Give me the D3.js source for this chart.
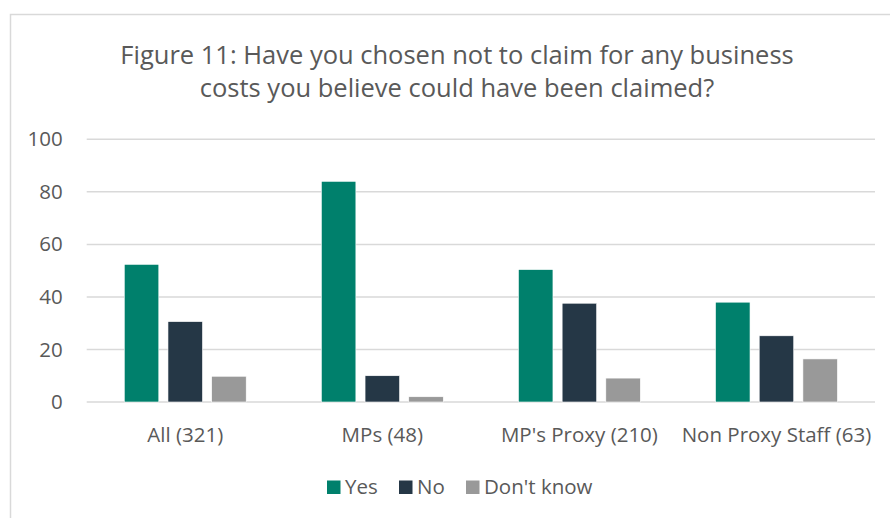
<!DOCTYPE html>
<html>
<head>
<meta charset="utf-8">
<script src="https://cdn.jsdelivr.net/npm/d3@7"></script>
<style>
  html, body { margin: 0; padding: 0; background: #fff; }
  svg { display: block; }
  text { font-family: "Open Sans", "Noto Sans", sans-serif; fill: #595959; }
</style>
</head>
<body>
<svg id="chart" width="890" height="518"></svg>
<script>
// Survey responses, percent of each group
const categories = ["All (321)", "MPs (48)", "MP's Proxy (210)", "Non Proxy Staff (63)"];
const seriesNames = ["Yes", "No", "Don't know"];
const yesValues = [52.4, 84.0, 50.4, 38.0];
const noValues = [30.6, 10.0, 37.6, 25.2];
const dontKnowValues = [9.8, 2.0, 9.1, 16.4];
const seriesColors = ["#00806C", "#253746", "#999999"];
const yTicks = [0, 20, 40, 60, 80, 100];
const titleLines = [
  "Figure 11: Have you chosen not to claim for any business",
  "costs you believe could have been claimed?"
];

const seriesValues = [yesValues, noValues, dontKnowValues];
const rows = categories.map((c, i) => ({
  category: c,
  values: seriesNames.map((s, j) => ({ series: s, value: seriesValues[j][i] }))
}));

const svg = d3.select("#chart");

// outer chart frame
svg.append("rect")
  .attr("x", 10.5).attr("y", 14.5)
  .attr("width", 900).attr("height", 520)
  .attr("fill", "#fff")
  .attr("stroke", "#d9d9d9").attr("stroke-width", 1.5);

// title
svg.append("g").selectAll("text")
  .data(titleLines)
  .join("text")
  .attr("x", 457)
  .attr("y", (d, i) => 64 + i * 33)
  .attr("text-anchor", "middle")
  .style("font-size", "25.5px")
  .text(d => d);

const plot = { left: 86.7, right: 875, top: 139.3, bottom: 402 };

const x0 = d3.scaleBand()
  .domain(categories)
  .range([plot.left, plot.right])
  .paddingInner(0).paddingOuter(0);

const x1 = d3.scaleBand()
  .domain(seriesNames)
  .range([0, x0.bandwidth()])
  .paddingInner(0.21).paddingOuter(0.86);

const y = d3.scaleLinear()
  .domain([0, 100])
  .range([plot.bottom, plot.top]);

// gridlines
svg.append("g").selectAll("line")
  .data(yTicks)
  .join("line")
  .attr("x1", plot.left).attr("x2", plot.right)
  .attr("y1", d => y(d)).attr("y2", d => y(d))
  .attr("stroke", "#d9d9d9").attr("stroke-width", 1.5);

// y axis labels
const yAxis = svg.append("g")
  .attr("transform", `translate(${plot.left - 24},0)`)
  .call(d3.axisLeft(y).tickValues(yTicks).tickSize(0).tickPadding(0));
yAxis.select(".domain").remove();
yAxis.selectAll("text")
  .style("font-size", "20.5px")
  .style("font-family", "\"Open Sans\", sans-serif")
  .attr("fill", "#595959");

// bars
const groups = svg.append("g").selectAll("g")
  .data(rows)
  .join("g")
  .attr("transform", d => `translate(${x0(d.category)},0)`);

groups.selectAll("rect")
  .data(d => d.values)
  .join("rect")
  .attr("x", d => x1(d.series))
  .attr("width", x1.bandwidth())
  .attr("y", d => y(d.value))
  .attr("height", d => y(0) - y(d.value))
  .attr("fill", (d, i) => seriesColors[i])
  .attr("stroke", "#ffffff").attr("stroke-width", 0.6);

// category axis labels
const xAxis = svg.append("g")
  .attr("transform", `translate(0,${plot.bottom + 22})`)
  .call(d3.axisBottom(x0).tickSize(0).tickPadding(0));
xAxis.select(".domain").remove();
xAxis.selectAll("text")
  .attr("dy", "0.9em")
  .style("font-size", "20.5px")
  .style("font-family", "\"Open Sans\", sans-serif")
  .attr("fill", "#595959");

// legend
const legendX = [327, 399, 466];
const legend = svg.append("g").selectAll("g")
  .data(seriesNames)
  .join("g")
  .attr("transform", (d, i) => `translate(${legendX[i]},480.5)`);
legend.append("rect")
  .attr("width", 13.5).attr("height", 13.5)
  .attr("fill", (d, i) => seriesColors[i]);
legend.append("text")
  .attr("x", 18).attr("y", 13)
  .style("font-size", "20.5px")
  .text(d => d);
</script>
</body>
</html>
